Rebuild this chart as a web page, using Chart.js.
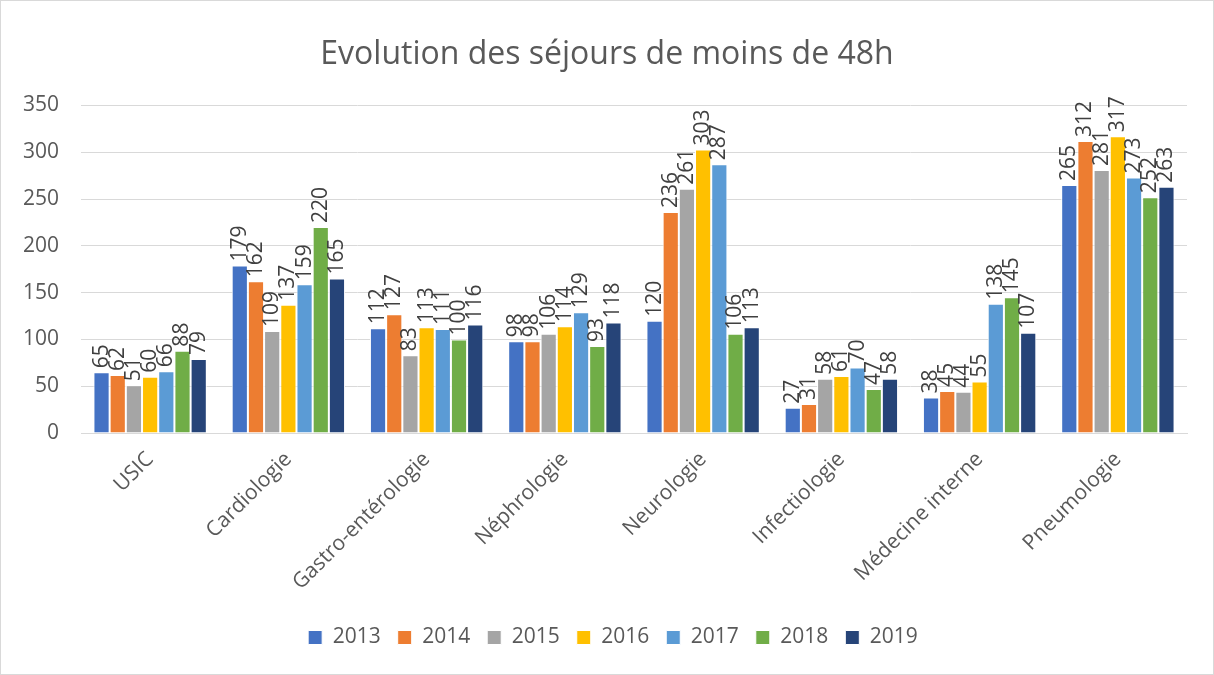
<!DOCTYPE html>
<html lang="fr">
<head>
<meta charset="utf-8">
<title>Evolution des séjours de moins de 48h</title>
<script src="https://cdn.jsdelivr.net/npm/chart.js@4.4.1/dist/chart.umd.min.js"></script>
<style>
    html, body { margin: 0; padding: 0; background: #fff; }
    #wrap {
        width: 1214px; height: 675px; box-sizing: border-box;
        border: 1px solid #d9d9d9; position: relative;
    }
    #chart { display: block; }
</style>
</head>
<body>
<div id="wrap"><canvas id="chart" width="1212" height="673"></canvas></div>
<script>
// données
const services = ['USIC', 'Cardiologie', 'Gastro-entérologie', 'Néphrologie', 'Neurologie', 'Infectiologie', 'Médecine interne', 'Pneumologie'];
const annees = ['2013', '2014', '2015', '2016', '2017', '2018', '2019'];
const couleurs = ['#4472C4', '#ED7D31', '#A5A5A5', '#FFC000', '#5B9BD5', '#70AD47', '#264478'];

const v2013 = [65, 179, 112, 98, 120, 27, 38, 265];
const v2014 = [62, 162, 127, 98, 236, 31, 45, 312];
const v2015 = [51, 109, 83, 106, 261, 58, 44, 281];
const v2016 = [60, 137, 113, 114, 303, 61, 55, 317];
const v2017 = [66, 159, 111, 129, 287, 70, 138, 273];
const v2018 = [88, 220, 100, 93, 106, 47, 145, 252];
const v2019 = [79, 165, 116, 118, 113, 58, 107, 263];
const yTicks = [0, 50, 100, 150, 200, 250, 300, 350];

const series = [v2013, v2014, v2015, v2016, v2017, v2018, v2019];
const police = "'Open Sans', 'Noto Sans', sans-serif";
const gris = '#595959';

// étiquettes verticales au-dessus des barres
const etiquettes = {
    id: 'etiquettes',
    afterDatasetsDraw(chart) {
        const ctx = chart.ctx;
        ctx.save();
        ctx.font = '21px ' + police;
        ctx.fillStyle = '#404040';
        ctx.textAlign = 'left';
        ctx.textBaseline = 'middle';
        chart.data.datasets.forEach((ds, i) => {
            const meta = chart.getDatasetMeta(i);
            meta.data.forEach((bar, j) => {
                ctx.save();
                ctx.translate(bar.x, bar.y - 4);
                ctx.rotate(-Math.PI / 2);
                ctx.fillText(String(ds.data[j]), 0, 0);
                ctx.restore();
            });
        });
        ctx.restore();
    }
};

// décale un peu le titre et la légende vers la droite, comme dans l'original
const decalage = {
    id: 'decalage',
    afterLayout(chart) {
        if (chart.legend) { chart.legend.left += 19; chart.legend.right += 19; }
        if (chart.titleBlock) { chart.titleBlock.left += 13; chart.titleBlock.right += 13; }
    }
};

const ctx = document.getElementById('chart');
new Chart(ctx, {
    type: 'bar',
    data: {
        labels: services,
        datasets: annees.map((a, i) => ({
            label: a,
            data: series[i],
            backgroundColor: couleurs[i],
            borderColor: '#ffffff',
            borderWidth: 1
        }))
    },
    options: {
        responsive: false,
        animation: false,
        layout: { padding: { left: 0, right: 26, top: 0, bottom: 16 } },
        datasets: { bar: { categoryPercentage: 0.82, barPercentage: 1 } },
        plugins: {
            title: {
                display: true,
                text: 'Evolution des séjours de moins de 48h',
                color: gris,
                font: { family: police, size: 32, weight: 'normal' },
                padding: { top: 35, bottom: 31 }
            },
            legend: {
                position: 'bottom',
                labels: {
                    color: gris,
                    font: { family: police, size: 21 },
                    boxWidth: 14,
                    boxHeight: 14,
                    padding: 17
                }
            },
            tooltip: { enabled: false }
        },
        scales: {
            y: {
                min: 0,
                max: 350,
                afterBuildTicks: (axis) => { axis.ticks = yTicks.map(v => ({ value: v })); },
                afterFit: (axis) => { axis.width = 80; },
                grid: { color: '#d9d9d9', drawTicks: false },
                border: { display: false },
                ticks: { color: gris, padding: 22, font: { family: police, size: 21 } }
            },
            x: {
                afterFit: (axis) => { axis.height = 177; },
                grid: { display: false },
                border: { display: true, color: '#d9d9d9' },
                ticks: {
                    color: gris,
                    maxRotation: 45,
                    minRotation: 45,
                    padding: 6,
                    font: { family: police, size: 21 }
                }
            }
        }
    },
    plugins: [etiquettes, decalage]
});
</script>
</body>
</html>
